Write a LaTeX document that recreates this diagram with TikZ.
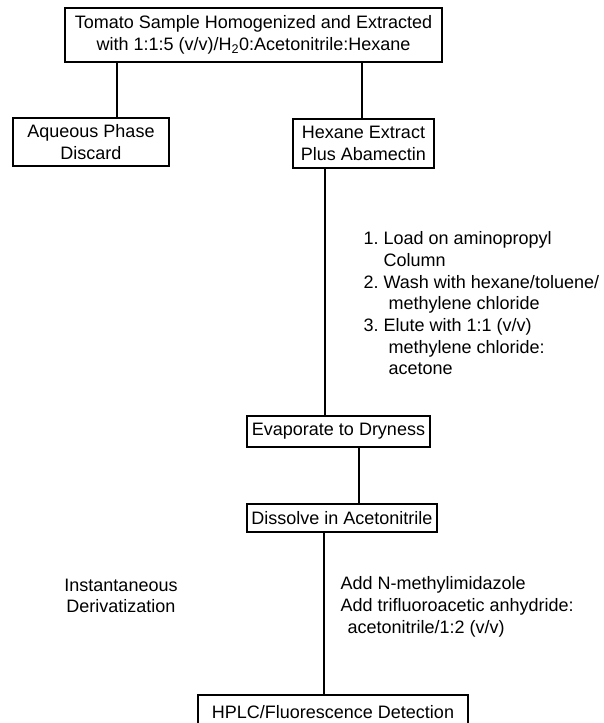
\documentclass[tikz,border=0pt]{standalone}
\usepackage{fontspec}
\setmainfont{Liberation Sans}
\begin{document}
\frenchspacing
\begin{tikzpicture}[x=1pt,y=-1pt, line width=1.2pt,
  box/.style={draw, inner sep=0pt, align=center, font=\fontsize{18}{22}\selectfont},
  lbl/.style={inner sep=0pt, font=\fontsize{18}{21.7}\selectfont\frenchspacing}]
\fill[white] (0,0) rectangle (604,723);
\clip (0,0) rectangle (604,723);
\node[box, minimum width=377pt, minimum height=54pt] (top) at (253.5,35)
  {Tomato Sample Homogenized and Extracted\\with 1:1:5 (v/v)/H\textsubscript{2}0:Acetonitrile:Hexane};
\node[box, minimum width=156pt, minimum height=48pt] (aq) at (91,142) {Aqueous Phase\\Discard};
\node[box, minimum width=141pt, minimum height=49pt] (hex) at (363.5,143.5) {Hexane Extract\\Plus Abamectin};
\node[box, minimum width=183pt, minimum height=31pt] (evap) at (338.5,431.5) {Evaporate to Dryness};
\node[box, minimum width=190pt, minimum height=28pt] (diss) at (342,518) {Dissolve in Acetonitrile};
\node[box, minimum width=270pt, minimum height=34pt] (hplc) at (333,712) {HPLC/Fluorescence Detection};
\node[lbl, anchor=north west, align=left] (steps) at (363,231)
  {1. Load on aminopropyl\\\hspace*{20pt}Column\\2. Wash with hexane/toluene/\\\hspace*{25pt}methylene chloride\\3. Elute with 1:1 (v/v)\\\hspace*{25pt}methylene chloride:\\\hspace*{25pt}acetone};
\node[lbl, align=center] (inst) at (121,596) {Instantaneous\\Derivatization};
\node[lbl, anchor=north west, align=left] (add) at (340,576)
  {Add N-methylimidazole\\Add trifluoroacetic anhydride:\\\hspace*{7pt}acetonitrile/1:2 (v/v)};
\draw (top.south -| 117,0) -- (aq.north -| 117,0);
\draw (top.south -| 362,0) -- (hex.north -| 362,0);
\draw (hex.south -| 325,0) -- (evap.north -| 325,0);
\draw (evap.south -| 359,0) -- (diss.north -| 359,0);
\draw (diss.south -| 324,0) -- (hplc.north -| 324,0);
\end{tikzpicture}
\end{document}
